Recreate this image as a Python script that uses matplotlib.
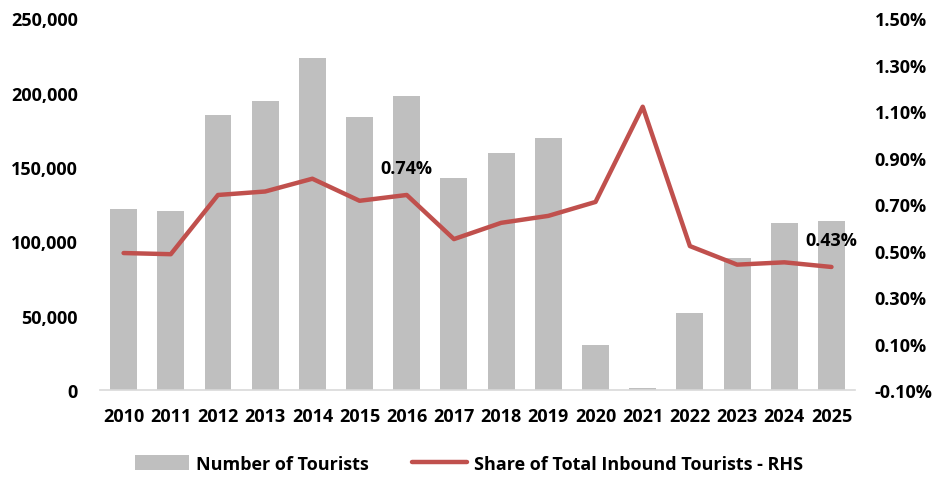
import numpy as np
import matplotlib
matplotlib.use('Agg')
import matplotlib.pyplot as plt
from matplotlib.ticker import FuncFormatter, MultipleLocator

years = ['2010', '2011', '2012', '2013', '2014', '2015', '2016', '2017',
         '2018', '2019', '2020', '2021', '2022', '2023', '2024', '2025']
tourists = [121800, 120700, 185100, 194700, 223400, 183900, 197800, 142400,
            159500, 169400, 30500, 1300, 52000, 88800, 112400, 113900]
share = [0.49, 0.485, 0.74, 0.755, 0.81, 0.715, 0.74, 0.55,
         0.62, 0.65, 0.71, 1.12, 0.52, 0.44, 0.45, 0.43]
labelled = {6: '0.74%', 15: '0.43%'}

plt.rcParams['font.family'] = ['Open Sans', 'DejaVu Sans']
plt.rcParams['font.weight'] = 'bold'
fs = 13

fig = plt.figure(figsize=(9.38, 4.81), dpi=100)
ax = fig.add_axes([0.1066, 0.187, 0.805, 0.7725])
ax2 = ax.twinx()

x = np.arange(len(years))
bars = ax.bar(x, tourists, width=0.57, color='#bfbfbf', label='Number of Tourists', zorder=2)
line, = ax2.plot(x, share, color='#c0504d', linewidth=3.2, solid_capstyle='round',
                 label='Share of Total Inbound Tourists - RHS', zorder=3)

for i, txt in labelled.items():
    ax2.annotate(txt, (x[i], share[i]), xytext=(0, 13), textcoords='offset points',
                 ha='center', va='bottom', fontsize=fs, fontweight='bold')

ax.set_xlim(-0.5, len(years) - 0.5)
ax.set_ylim(0, 250000)
ax.yaxis.set_major_locator(MultipleLocator(50000))
ax.yaxis.set_major_formatter(FuncFormatter(lambda v, p: f'{int(v):,}'))
ax2.set_ylim(-0.1, 1.5)
ax2.set_yticks(np.arange(-0.1, 1.51, 0.2))
ax2.yaxis.set_major_formatter(FuncFormatter(lambda v, p: f'{v:.2f}%'))

ax.set_xticks(x)
ax.set_xticklabels(years)

for a in (ax, ax2):
    for s in a.spines.values():
        s.set_visible(False)
    a.tick_params(length=0, labelsize=fs)
    for t in a.get_xticklabels() + a.get_yticklabels():
        t.set_fontweight('bold')
ax.spines['bottom'].set_visible(True)
ax.spines['bottom'].set_color('#d9d9d9')
ax.spines['bottom'].set_linewidth(1.2)
ax.tick_params(axis='y', pad=16)
ax.tick_params(axis='x', pad=12)
ax2.tick_params(axis='y', pad=14)

fig.legend(handles=[bars, line], loc='center', bbox_to_anchor=(0.5, 0.033), ncol=2,
           frameon=False, prop={'size': fs, 'weight': 'bold'}, handlelength=3.0,
           handleheight=0.9, columnspacing=2.4, handletextpad=0.4)

fig.savefig('out.png', dpi=100)
